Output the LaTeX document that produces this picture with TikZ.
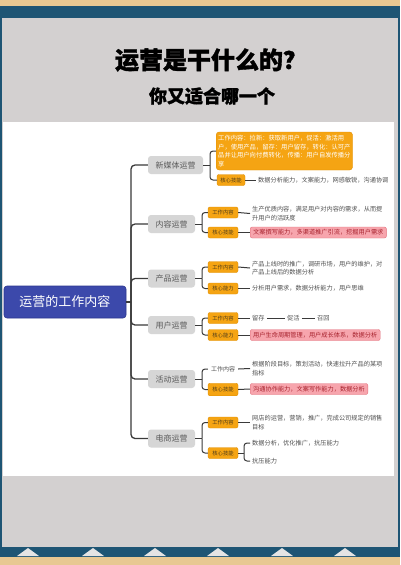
\documentclass[tikz,border=0pt]{standalone}
\usepackage{fontspec}
\setmainfont{Noto Sans CJK SC}
\newfontfamily\titlefont[BoldFeatures={FakeBold=1.6}]{Noto Sans CJK SC}
\definecolor{linec}{HTML}{3A3A3A}
\definecolor{topicgray}{HTML}{D6D6D6}
\definecolor{topictext}{HTML}{5A5A5A}
\definecolor{tagor}{HTML}{F5A413}
\definecolor{tagbd}{HTML}{E08E00}
\definecolor{tagtext}{HTML}{4D3B1A}
\definecolor{leaftext}{HTML}{505050}
\definecolor{pinkf}{HTML}{F7A5AD}
\definecolor{pinkbd}{HTML}{E2707C}
\definecolor{pinktext}{HTML}{A8242F}
\definecolor{rootblue}{HTML}{3C49AB}
\definecolor{rootbd}{HTML}{2C3790}
\definecolor{frameteal}{HTML}{1E5574}
\definecolor{beige}{HTML}{E8C892}
\definecolor{panelgray}{HTML}{D3D0D0}
\definecolor{trig}{HTML}{E4E4E4}
\begin{document}
\begin{tikzpicture}[x=1pt,y=-1pt,
 conn/.style={draw=linec, line width=1.3pt, rounded corners=4pt},
 sub/.style={draw=linec, line width=1pt, rounded corners=3pt},
 topic/.style={fill=topicgray, rounded corners=3pt, minimum height=18pt, inner sep=0pt, font=\fontsize{8}{9}\selectfont, text=topictext},
 tag/.style={fill=tagor, draw=tagbd, line width=0.4pt, rounded corners=2pt, minimum width=30pt, minimum height=11pt, inner sep=0pt, font=\fontsize{5.3}{6}\selectfont, text=tagtext},
 leaf/.style={anchor=west, inner xsep=2pt, inner ysep=0pt, align=left, font=\fontsize{6.2}{8.5}\selectfont, text=leaftext},
 pinkbox/.style={anchor=west, fill=pinkf, draw=pinkbd, line width=0.4pt, rounded corners=2pt, minimum height=11pt, inner xsep=3pt, inner ysep=0pt, font=\fontsize{6.2}{7}\selectfont, text=pinktext},
]
% frame
\fill[frameteal] (0,0) rectangle (400,565);
\fill[beige] (0,0) rectangle (400,6);
\fill[beige] (0,557) rectangle (400,565);
\fill[panelgray] (2,18) rectangle (398,547);
\fill[white] (3,122) rectangle (394,476);
\foreach \x in {28,93,155,218,282,345}
  \fill[trig] (\x-11,556) -- (\x,548) -- (\x+11,556) -- cycle;
\useasboundingbox (0,0) rectangle (400,565);

% titles
\node[font=\titlefont\fontsize{24}{24}\selectfont\bfseries, text=black] (title) at (211,60) {运营是干什么的？};
\node[font=\titlefont\fontsize{18}{18}\selectfont\bfseries, text=black] (subtitle) at (212,96) {你又适合哪一个};

% root
\node[fill=rootblue, draw=rootbd, line width=0.6pt, rounded corners=3pt, minimum width=122pt, minimum height=32pt, text=white, font=\fontsize{13}{13}\selectfont] (root) at (65,302) {运营的工作内容};

% topics
\node[topic, minimum width=55pt] (t1) at (175.5,165) {新媒体运营};
\node[topic, minimum width=47pt] (t2) at (171.5,224) {内容运营};
\node[topic, minimum width=47pt] (t3) at (171.5,278.5) {产品运营};
\node[topic, minimum width=47pt] (t4) at (171.5,325) {用户运营};
\node[topic, minimum width=47pt] (t5) at (171.5,379) {活动运营};
\node[topic, minimum width=47pt] (t6) at (171.5,438.5) {电商运营};

\coordinate (hub) at (131,302);
\draw[conn] (root.east) -- (hub);
\foreach \t in {t1,t2,t3,t4,t5,t6}
  \draw[conn] (hub) |- (\t.west);

% ---- 新媒体运营
\node[anchor=west, fill=tagor, draw=tagbd, line width=0.4pt, rounded corners=3pt, minimum width=136pt, minimum height=38pt, inner xsep=2pt, inner ysep=1pt, align=left, text=white, font=\fontsize{6.3}{8.5}\selectfont] (w1) at (216,151) {工作内容：拉新：获取新用户，促活：激活用\\户，使用产品，留存：用户留存，转化：认可产\\品并让用户向付费转化，传播：用户自发传播分\\享};
\node[tag, minimum width=28pt] (c1) at (231,180) {核心技能};
\node[leaf] (l1b) at (256,180) {数据分析能力，文案能力，网感敏锐，沟通协调};
\coordinate (b1) at (210,165);
\draw[sub] (t1.east) -- (b1);
\draw[sub] (b1) |- (w1.west);
\draw[sub] (b1) |- (c1.west);
\draw[sub] (c1.east) -- (l1b.west);

% ---- 内容运营
\node[tag] (w2) at (223,212.5) {工作内容};
\node[tag] (c2) at (223,232.5) {核心技能};
\node[leaf] (l2a) at (250,213.5) {生产优质内容，满足用户对内容的需求，从而提\\升用户的活跃度};
\node[pinkbox] (p2) at (250,232.5) {文案撰写能力，多渠道推广引流，挖掘用户需求};
\coordinate (b2) at (202,224);
\draw[sub] (t2.east) -- (b2);
\draw[sub] (b2) |- (w2.west);
\draw[sub] (b2) |- (c2.west);
\draw[sub] (w2.east) -- (l2a.west);
\draw[sub] (c2.east) -- (p2.west);

% ---- 产品运营
\node[tag] (w3) at (223,267) {工作内容};
\node[tag] (c3) at (223,288.5) {核心能力};
\node[leaf] (l3a) at (250,268) {产品上线时的推广，调研市场，用户的维护，对\\产品上线后的数据分析};
\node[leaf] (l3b) at (250,288.5) {分析用户需求，数据分析能力，用户思维};
\coordinate (b3) at (202,278.5);
\draw[sub] (t3.east) -- (b3);
\draw[sub] (b3) |- (w3.west);
\draw[sub] (b3) |- (c3.west);
\draw[sub] (w3.east) -- (l3a.west);
\draw[sub] (c3.east) -- (l3b.west);

% ---- 用户运营
\node[tag] (w4) at (223,318) {工作内容};
\node[tag] (c4) at (223,335) {核心能力};
\node[leaf] (r1) at (250,318) {留存};
\node[leaf] (r2) at (285,318) {促活};
\node[leaf] (r3) at (315,318) {召回};
\node[pinkbox] (p4) at (250,335) {用户生命周期管理，用户成长体系，数据分析};
\coordinate (b4) at (202,325);
\draw[sub] (t4.east) -- (b4);
\draw[sub] (b4) |- (w4.west);
\draw[sub] (b4) |- (c4.west);
\draw[sub] (w4.east) -- (r1.west);
\draw[sub] (r1.east) -- (r2.west);
\draw[sub] (r2.east) -- (r3.west);
\draw[sub] (c4.east) -- (p4.west);

% ---- 活动运营
\node[font=\fontsize{6}{7}\selectfont, text=leaftext, inner xsep=1pt, inner ysep=0pt, minimum width=30pt] (w5) at (223,369) {工作内容};
\node[tag, minimum height=12.5pt] (c5) at (223,389.5) {核心技能};
\node[leaf] (l5a) at (250,368.5) {根据阶段目标，策划活动，快速拉升产品的某项\\指标};
\node[pinkbox] (p5) at (250,389) {沟通协作能力，文案写作能力，数据分析};
\coordinate (b5) at (202,379);
\draw[sub] (t5.east) -- (b5);
\draw[sub] (b5) |- (w5.west);
\draw[sub] (b5) |- (c5.west);
\draw[sub] (w5.east) -- (l5a.west);
\draw[sub] (c5.east) -- (p5.west);

% ---- 电商运营
\node[tag] (w6) at (223,422.5) {工作内容};
\node[tag] (c6) at (223,453) {核心技能};
\node[leaf] (l6a) at (250,422.5) {网店的运营，营销，推广，完成公司规定的销售\\目标};
\node[leaf] (l6b) at (250,443) {数据分析，优化推广，抗压能力};
\node[leaf] (l6c) at (250,461) {抗压能力};
\coordinate (b6) at (202,438.5);
\coordinate (b6s) at (244,453);
\draw[sub] (t6.east) -- (b6);
\draw[sub] (b6) |- (w6.west);
\draw[sub] (b6) |- (c6.west);
\draw[sub] (w6.east) -- (l6a.west);
\draw[sub] (c6.east) -- (b6s);
\draw[sub] (b6s) |- (l6b.west);
\draw[sub] (b6s) |- (l6c.west);
\end{tikzpicture}
\end{document}
